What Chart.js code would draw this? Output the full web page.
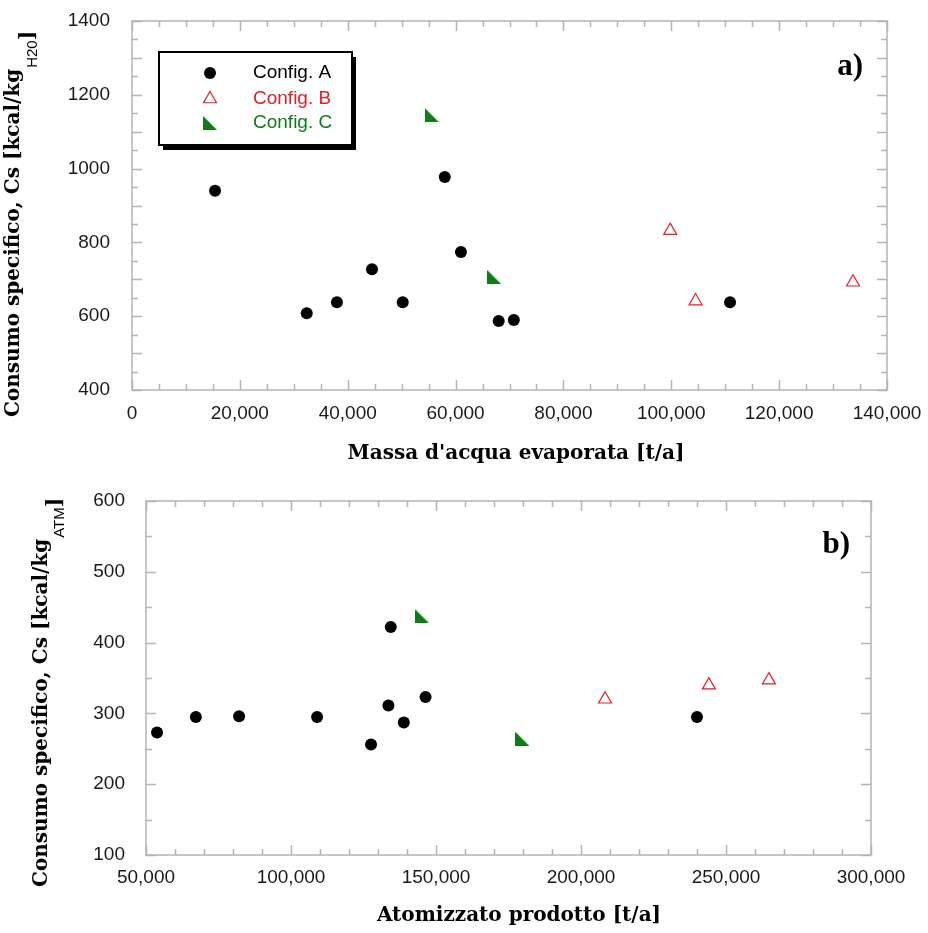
<!DOCTYPE html>
<html>
<head>
<meta charset="utf-8">
<script src="https://cdn.jsdelivr.net/npm/chart.js@4.4.1/dist/chart.umd.min.js"></script>
<style>
  html, body { margin: 0; padding: 0; background: #fff; }
  #wrap { position: relative; width: 928px; height: 933px; }
  .panel { position: absolute; left: 0; width: 928px; }
</style>
</head>
<body>
<div id="wrap">
  <div class="panel" style="top:0;height:465px"><canvas id="chartA" width="928" height="465"></canvas></div>
  <div class="panel" style="top:465px;height:468px"><canvas id="chartB" width="928" height="468"></canvas></div>
</div>
<script>
// ---- Panel a: specific consumption per kg of evaporated water
const massaA = [15400, 32400, 38000, 44500, 50200, 58000, 61000, 68000, 70800, 110900];
const consA  = [940, 608, 638, 727, 638, 977, 774, 587, 590, 638];
const massaB = [99800, 104500, 133700];
const consB  = [832, 641, 692];
const massaC = [55600, 67100];
const consC  = [1145, 707];

// ---- Panel b: specific consumption per kg of spray-dried powder
const atomA = [53800, 67200, 82100, 109000, 127600, 133600, 134400, 138900, 146400, 240000];
const consAtomA = [273, 295, 296, 295, 256, 311, 422, 287, 323, 295];
const atomB = [208300, 244100, 264800];
const consAtomB = [320, 340, 347];
const atomC = [145300, 179800];
const consAtomC = [437, 264];

const seriesNames = ['Config. A', 'Config. B', 'Config. C'];

// axis ranges: [min, max, label step]
const xRangeA = [0, 140000, 20000];
const yRangeA = [400, 1400, 200];
const xRangeB = [50000, 300000, 50000];
const yRangeB = [100, 600, 100];

const BLACK = '#000000';
const RED = '#e3202a';
const GREEN = '#0f7d16';
const FRAME = '#b4b4b4';
const SANS = '"Liberation Sans", Arial, sans-serif';
const SERIF = '"DejaVu Serif", serif';

// filled right-triangle marker for Config. C
function makeWedge(size, color) {
  const c = document.createElement('canvas');
  c.width = size; c.height = size;
  const g = c.getContext('2d');
  g.fillStyle = color;
  g.beginPath();
  g.moveTo(0, 0);
  g.lineTo(0, size);
  g.lineTo(size, size);
  g.closePath();
  g.fill();
  return c;
}
const wedge = makeWedge(14, GREEN);

const pts = (xs, ys) => xs.map((x, i) => ({ x, y: ys[i] }));

function datasets(ax, ay, bx, by, cx, cy) {
  return [
    { label: seriesNames[0], data: pts(ax, ay), pointStyle: 'circle', pointRadius: 6,
      pointHoverRadius: 6, backgroundColor: BLACK, borderColor: BLACK, borderWidth: 0, clip: false },
    { label: seriesNames[1], data: pts(bx, by), pointStyle: 'triangle', pointRadius: 7.5,
      pointHoverRadius: 7.5, backgroundColor: 'rgba(0,0,0,0)', borderColor: RED, borderWidth: 1.2, clip: false },
    { label: seriesNames[2], data: pts(cx, cy), pointStyle: wedge, pointRadius: 7,
      pointHoverRadius: 7, backgroundColor: GREEN, borderColor: GREEN, clip: false }
  ];
}

// fixed axis band sizes; label overflow must not push the plot area around
function clearPad(s) { s.paddingTop = 0; s.paddingBottom = 0; s.paddingLeft = 0; s.paddingRight = 0; }

function xScale(range, pad, h) {
  return {
    type: 'linear', position: 'bottom', min: range[0], max: range[1],
    grid: { display: false, drawTicks: false }, border: { display: false },
    ticks: { stepSize: range[2], padding: pad, color: '#1a1a1a', maxRotation: 0, autoSkip: false,
      font: { family: SANS, size: 19 }, callback: v => v.toLocaleString('en-US') },
    afterFit(s) { s.height = h; clearPad(s); }
  };
}
function yScale(range, pad, w) {
  return {
    type: 'linear', position: 'left', min: range[0], max: range[1],
    grid: { display: false, drawTicks: false }, border: { display: false },
    ticks: { stepSize: range[2], padding: pad, color: '#1a1a1a', autoSkip: false,
      font: { family: SANS, size: 19 }, callback: v => String(v) },
    afterFit(s) { s.width = w; clearPad(s); }
  };
}

// grey frame with inward tick marks on all four sides
const frameTicks = {
  id: 'frameTicks',
  beforeDatasetsDraw(chart, args, o) {
    const { ctx, chartArea: { left, right, top, bottom }, scales: { x, y } } = chart;
    ctx.save();
    ctx.strokeStyle = FRAME;
    ctx.lineWidth = 1.5;
    ctx.beginPath();
    const eps = 1e-6;
    for (let v = x.min; v <= x.max + eps; v += o.xMinor) {
      const px = Math.round(x.getPixelForValue(v)) + 0.5;
      const len = Math.abs(v % o.xMajor) < eps ? 10 : 6;
      ctx.moveTo(px, bottom); ctx.lineTo(px, bottom - len);
      ctx.moveTo(px, top); ctx.lineTo(px, top + len);
    }
    for (let v = y.min; v <= y.max + eps; v += o.yMinor) {
      const py = Math.round(y.getPixelForValue(v)) + 0.5;
      const len = Math.abs(v % o.yMajor) < eps ? 10 : 6;
      ctx.moveTo(left, py); ctx.lineTo(left + len, py);
      ctx.moveTo(right, py); ctx.lineTo(right - len, py);
    }
    ctx.stroke();
    ctx.strokeRect(left, top, right - left, bottom - top);
    ctx.restore();
  }
};

// axis titles (with subscript unit) and panel tag
const titles = {
  id: 'titles',
  afterDraw(chart, args, o) {
    const ctx = chart.ctx;
    ctx.save();
    ctx.fillStyle = '#000';
    // x title
    ctx.font = 'bold 20px ' + SERIF;
    ctx.textAlign = 'center';
    ctx.textBaseline = 'alphabetic';
    ctx.fillText(o.xTitle, o.xTitleX, o.xTitleY);
    // y title, rotated
    ctx.save();
    ctx.translate(o.yX, o.yBottom);
    ctx.rotate(-Math.PI / 2);
    ctx.textAlign = 'left';
    ctx.font = 'bold 20px ' + SERIF;
    ctx.fillText(o.yMain, 0, 0);
    let w = ctx.measureText(o.yMain).width;
    ctx.font = '15px ' + SANS;
    ctx.fillText(o.ySub, w + 1, o.subDy);
    w += ctx.measureText(o.ySub).width + 1;
    ctx.font = 'bold 20px ' + SERIF;
    ctx.fillText(']', w, o.brDy);
    ctx.restore();
    // panel tag
    ctx.font = 'bold 31px "Liberation Serif", serif';
    ctx.textAlign = 'right';
    ctx.fillText(o.tag, o.tagX, o.tagY);
    ctx.restore();
  }
};

// boxed legend with drop shadow
const boxLegend = {
  id: 'boxLegend',
  afterDraw(chart, args, o) {
    if (!o.show) return;
    const ctx = chart.ctx;
    ctx.save();
    ctx.fillStyle = '#000';
    ctx.fillRect(o.x + 4, o.y + 5, o.w, o.h);
    ctx.fillStyle = '#fff';
    ctx.fillRect(o.x, o.y, o.w, o.h);
    ctx.strokeStyle = '#000';
    ctx.lineWidth = 2;
    ctx.strokeRect(o.x, o.y, o.w, o.h);
    const colors = [BLACK, RED, GREEN];
    chart.data.datasets.forEach((ds, i) => {
      const ry = o.rows[i];
      ctx.fillStyle = ds.backgroundColor;
      ctx.strokeStyle = ds.borderColor;
      ctx.lineWidth = ds.borderWidth || 1;
      Chart.helpers.drawPoint(ctx, { pointStyle: ds.pointStyle, radius: ds.pointRadius,
        borderWidth: ds.borderWidth || 0, rotation: 0 }, o.markX, ry);
      ctx.fillStyle = colors[i];
      ctx.font = '19px ' + SANS;
      ctx.textAlign = 'left';
      ctx.textBaseline = 'middle';
      ctx.fillText(ds.label, o.textX, ry);
    });
    ctx.restore();
  }
};

new Chart(document.getElementById('chartA'), {
  type: 'scatter',
  data: { datasets: datasets(massaA, consA, massaB, consB, massaC, consC) },
  options: {
    responsive: false, animation: false, events: [],
    layout: { padding: { left: 0, top: 21, right: 41, bottom: 0 } },
    scales: { x: xScale(xRangeA, 12, 75), y: yScale(yRangeA, 22, 132) },
    plugins: {
      legend: { display: false }, tooltip: { enabled: false },
      frameTicks: { xMinor: 5000, xMajor: 20000, yMinor: 50, yMajor: 100 },
      titles: { xTitle: "Massa d'acqua evaporata [t/a]", xTitleX: 516, xTitleY: 459,
        yMain: 'Consumo specifico, Cs [kcal/kg', ySub: 'H20', yX: 19, yBottom: 417, subDy: 18, brDy: 15,
        tag: 'a)', tagX: 863, tagY: 75 },
      boxLegend: { show: true, x: 159, y: 52, w: 193, h: 93, markX: 210, textX: 253, rows: [73, 99, 123] }
    }
  },
  plugins: [frameTicks, titles, boxLegend]
});

new Chart(document.getElementById('chartB'), {
  type: 'scatter',
  data: { datasets: datasets(atomA, consAtomA, atomB, consAtomB, atomC, consAtomC) },
  options: {
    responsive: false, animation: false, events: [],
    layout: { padding: { left: 0, top: 36, right: 57, bottom: 0 } },
    scales: { x: xScale(xRangeB, 11, 78), y: yScale(yRangeB, 21, 146) },
    plugins: {
      legend: { display: false }, tooltip: { enabled: false },
      frameTicks: { xMinor: 10000, xMajor: 50000, yMinor: 50, yMajor: 100 },
      titles: { xTitle: 'Atomizzato prodotto [t/a]', xTitleX: 519, xTitleY: 456,
        yMain: 'Consumo specifico, Cs [kcal/kg', ySub: 'ATM', yX: 47, yBottom: 422, subDy: 17, brDy: 14,
        tag: 'b)', tagX: 850, tagY: 88 },
      boxLegend: { show: false }
    }
  },
  plugins: [frameTicks, titles, boxLegend]
});
</script>
</body>
</html>
